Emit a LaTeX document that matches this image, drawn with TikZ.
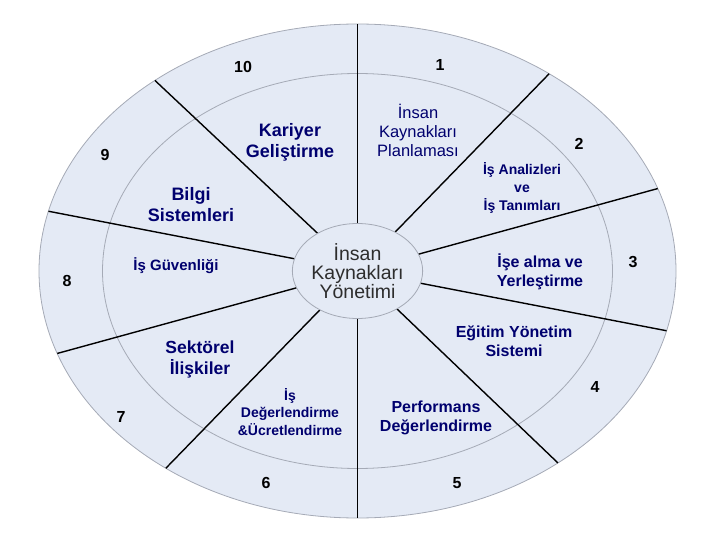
\documentclass[tikz,border=0pt]{standalone}
\usepackage{fontspec}
\setmainfont{Liberation Sans}
\usetikzlibrary{calc,shapes.geometric}
\definecolor{fillc}{RGB}{228,234,245}
\definecolor{edgec}{RGB}{165,170,182}
\definecolor{navy}{RGB}{0,0,110}
\definecolor{hubtext}{RGB}{45,45,45}
\begin{document}
\begin{tikzpicture}[x=1pt,y=-1pt,
  ring/.style={draw=edgec,line width=0.8pt},
  spoke/.style={line width=1.4pt,draw=black},
  num/.style={inner sep=0pt,font=\fontsize{16}{19}\selectfont\bfseries},
  lab/.style={inner sep=0pt,text=navy,align=center,font=\fontsize{16}{19}\selectfont\bfseries},
  labbig/.style={lab,font=\fontsize{18}{21}\selectfont\bfseries},
  labsmall/.style={lab,font=\fontsize{14}{18}\selectfont\bfseries},
  labreg/.style={lab,font=\fontsize{16.5}{19}\selectfont}]
\useasboundingbox (0,0) rectangle (720,540);
\coordinate (c) at (357.5,271);
\path[fill=fillc,ring] (c) ellipse [x radius=318.5,y radius=247];
\path[ring] (c) ellipse [x radius=255,y radius=197.5];
\foreach \a [count=\i] in {-90,-53,-19.5,14,51,90,127,160.5,-166,-129.5} {
  \coordinate (in\i) at ($(c)+(\a:61 and 47.5)$);
  \coordinate (out\i) at ($(c)+(\a:318.5 and 247)$);
  \draw[spoke] (in\i) -- (out\i);
}
\node[ellipse,draw=edgec,line width=0.8pt,fill=fillc,minimum width=122pt,minimum height=95pt,inner sep=0pt,outer sep=0pt,
  align=center,text=hubtext,font=\fontsize{19.5}{19}\selectfont] (hub) at (c) {İnsan\\Kaynakları\\Yönetimi};
% numbers
\node[num] (n10) at (243,67) {10};
\node[num] (n1) at (440,65) {1};
\node[num] (n2) at (579,144) {2};
\node[num] (n3) at (633,262) {3};
\node[num] (n4) at (595,387) {4};
\node[num] (n5) at (457,483) {5};
\node[num] (n6) at (266,483) {6};
\node[num] (n7) at (121,417) {7};
\node[num] (n8) at (67,281) {8};
\node[num] (n9) at (105,155) {9};
% labels
\node[labbig] (kariyer) at (290,142) {Kariyer\\Geliştirme};
\node[labreg] (plan) at (418,130) {İnsan\\Kaynakları\\Planlaması};
\node[labsmall] (analiz) at (522,188) {İş Analizleri\\ve\\İş Tanımları};
\node[lab] (alma) at (540,272) {İşe alma ve\\Yerleştirme};
\node[lab] (egitim) at (514,341) {Eğitim Yönetim\\Sistemi};
\node[lab] (perf) at (436,418) {Performans\\Değerlendirme};
\node[labsmall,font=\fontsize{14}{17.5}\selectfont\bfseries] (ucret) at (290,412) {İş\\Değerlendirme\\\&Ücretlendirme};
\node[labbig,font=\fontsize{17.5}{21}\selectfont\bfseries] (sektor) at (200,359) {Sektörel\\İlişkiler};
\node[lab,font=\fontsize{15}{18}\selectfont\bfseries] (guven) at (176,266) {İş Güvenliği};
\node[labbig] (bilgi) at (191,205) {Bilgi\\Sistemleri};
\end{tikzpicture}
\end{document}
